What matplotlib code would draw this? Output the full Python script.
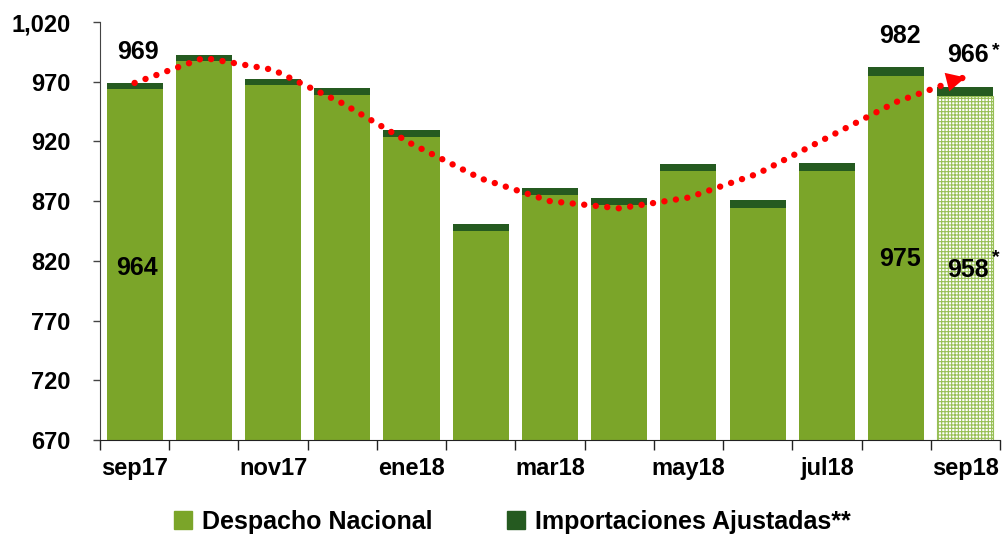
import numpy as np
import matplotlib
matplotlib.use("Agg")
import matplotlib.pyplot as plt
from matplotlib.patches import Patch
from matplotlib.path import Path
from matplotlib.markers import MarkerStyle
from matplotlib.transforms import Affine2D

# data
meses = ["sep17", "oct17", "nov17", "dic17", "ene18", "feb18", "mar18",
         "abr18", "may18", "jun18", "jul18", "ago18", "sep18"]
despacho = [964, 987, 967, 959, 924, 845, 875, 867, 895, 864, 895, 975, 958]
total = [969, 992, 972, 965, 930, 851, 881, 873, 901, 871, 902, 982, 966]
importaciones = [t - d for t, d in zip(total, despacho)]
# dotted trend curve, read at each bar centre
tendencia = [969, 990, 980, 952, 918, 889, 870, 864, 873, 893, 923, 953, 974]

verde = "#7BA529"
verde_osc = "#255A20"
rojo = "#FF0000"

plt.rcParams["font.family"] = ["Liberation Sans", "DejaVu Sans"]
plt.rcParams["font.weight"] = "bold"
plt.rcParams["hatch.linewidth"] = 0.8

fig = plt.figure(figsize=(10.05, 5.37), dpi=100)
ax = fig.add_axes([0.0995, 0.1806, 0.8955, 0.7784])

x = np.arange(len(meses))
ancho = 0.81
n = len(meses) - 1
ax.bar(x[:n], despacho[:n], width=ancho, color=verde, linewidth=0)
ax.bar(x[n], despacho[n], width=ancho, color="white", edgecolor="#97bf55", hatch="+++++", linewidth=0.8)
ax.bar(x, importaciones, bottom=despacho, width=ancho, color=verde_osc, linewidth=0)

# trend: dotted curve with a triangle head (tip sits on the last point)
ax.plot(x, tendencia, color=rojo, linewidth=4.6, linestyle=(0, (0.01, 1.8)),
        dash_capstyle="round", zorder=5)
punta = Path([(0, 0), (-1, 0.5), (-1, -0.5), (0, 0)])
punta = Affine2D().rotate_deg(14).transform_path(punta)
ax.plot(x[-1], tendencia[-1], linestyle="none", marker=MarkerStyle(punta),
        markersize=30, color=rojo, markeredgewidth=0, zorder=6)

# labels
fs = 18
ax.text(0.05, 995, str(total[0]), ha="center", va="center", fontsize=fs)
ax.text(0.03, 814, str(despacho[0]), ha="center", va="center", fontsize=fs)
ax.text(11.05, 1008, str(total[11]), ha="center", va="center", fontsize=fs)
ax.text(11.05, 821.5, str(despacho[11]), ha="center", va="center", fontsize=fs)
ax.text(12.04, 992.5, str(total[12]), ha="center", va="center", fontsize=fs)
ax.text(12.44, 996, "*", ha="center", va="center", fontsize=14)
ax.text(12.04, 812, str(despacho[12]), ha="center", va="center", fontsize=fs)
ax.text(12.44, 823, "*", ha="center", va="center", fontsize=14)

ax.set_xlim(-0.5, 12.5)
ax.set_ylim(670, 1020)
ax.set_yticks(np.arange(670, 1021, 50))
ax.set_yticklabels([f"{v:,}" for v in range(670, 1021, 50)], fontsize=17)
ax.tick_params(axis="y", length=5, width=1, pad=16, color="#444444")

ax.set_xticks(x[::2])
ax.set_xticklabels(meses[::2], fontsize=17)
ax.set_xticks(np.arange(-0.5, 12.6, 1), minor=True)
ax.tick_params(axis="x", which="major", length=0, pad=12)
ax.tick_params(axis="x", which="minor", length=7, width=1, color="#222222")

for s in ["top", "right"]:
    ax.spines[s].set_visible(False)
ax.spines["left"].set_color("#444444")
ax.spines["bottom"].set_color("#222222")

handles = [Patch(color=verde), Patch(color=verde_osc)]
fig.legend(handles, ["Despacho Nacional", "Importaciones Ajustadas**"],
           loc="center", bbox_to_anchor=(0.51, 0.028), ncol=2, frameon=False,
           fontsize=18, handlelength=0.7, handleheight=0.7, handletextpad=0.4,
           columnspacing=3.0)

fig.savefig("out.png", dpi=100)
